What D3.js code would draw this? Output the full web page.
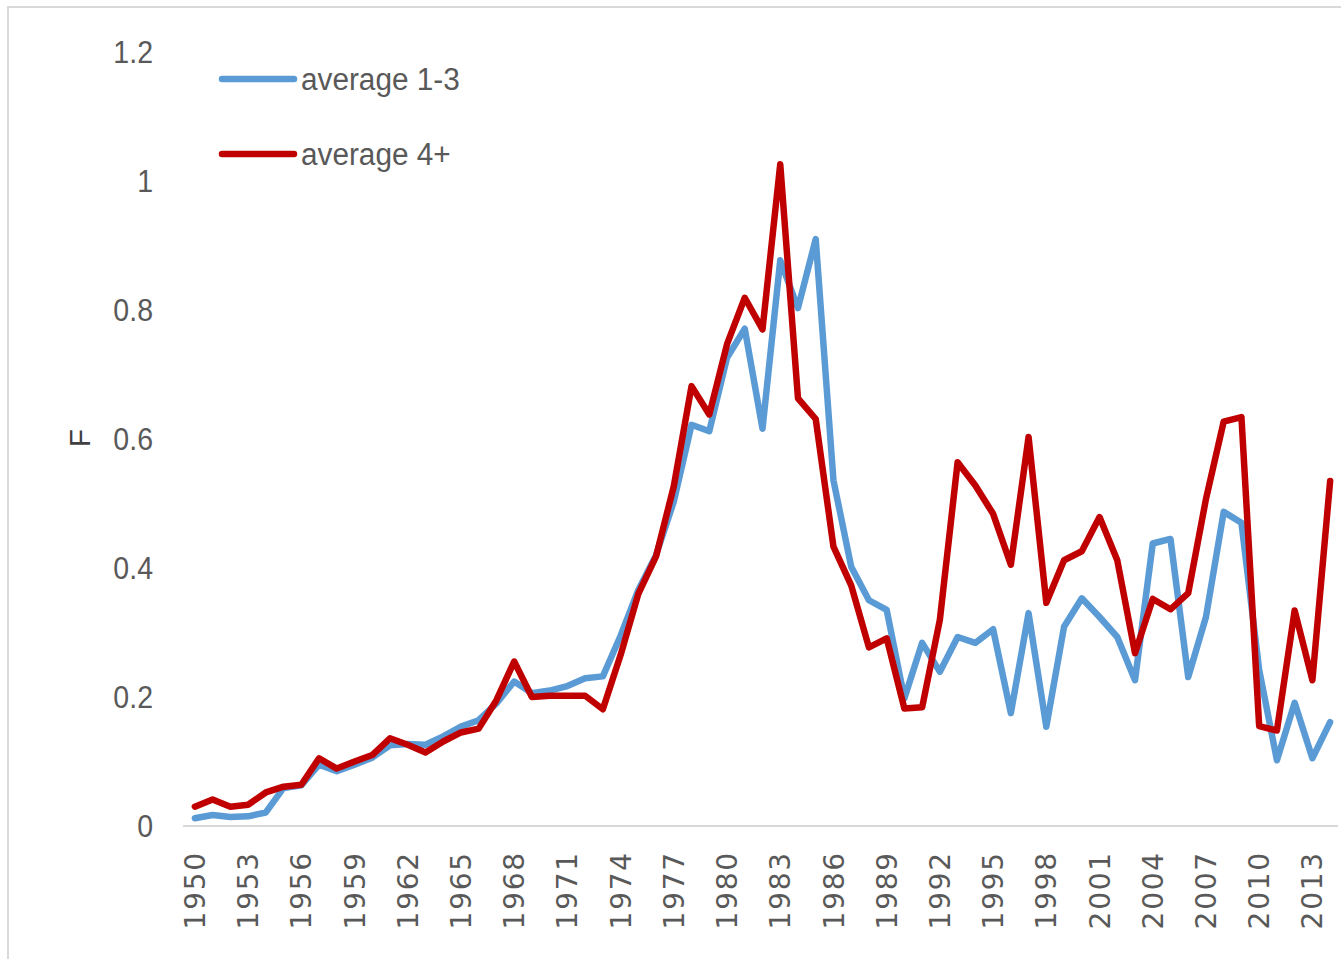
<!DOCTYPE html>
<html>
<head>
<meta charset="utf-8">
<script src="https://cdn.jsdelivr.net/npm/d3@7"></script>
<style>
  html, body { margin: 0; padding: 0; background: #fff; }
  svg { display: block; }
</style>
</head>
<body>
<div id="chart"></div>
<script>
// years 1950..2014
var years = [1950,1951,1952,1953,1954,1955,1956,1957,1958,1959,
             1960,1961,1962,1963,1964,1965,1966,1967,1968,1969,
             1970,1971,1972,1973,1974,1975,1976,1977,1978,1979,
             1980,1981,1982,1983,1984,1985,1986,1987,1988,1989,
             1990,1991,1992,1993,1994,1995,1996,1997,1998,1999,
             2000,2001,2002,2003,2004,2005,2006,2007,2008,2009,
             2010,2011,2012,2013,2014];

var avg13 = [0.012,0.017,0.014,0.015,0.021,0.059,0.063,0.095,0.085,0.095,
             0.106,0.125,0.127,0.126,0.139,0.154,0.164,0.190,0.224,0.206,
             0.210,0.217,0.229,0.232,0.295,0.366,0.420,0.503,0.622,0.612,
             0.726,0.771,0.616,0.877,0.803,0.910,0.536,0.402,0.350,0.335,
             0.198,0.284,0.239,0.293,0.284,0.305,0.175,0.330,0.154,0.309,
             0.353,0.324,0.293,0.226,0.438,0.445,0.231,0.324,0.487,0.470,
             0.242,0.102,0.191,0.105,0.161];

var avg4p = [0.030,0.041,0.030,0.033,0.052,0.061,0.064,0.105,0.089,0.100,
             0.110,0.136,0.126,0.114,0.131,0.145,0.151,0.195,0.255,0.200,
             0.202,0.202,0.202,0.181,0.265,0.360,0.418,0.527,0.682,0.638,
             0.747,0.819,0.770,1.026,0.663,0.631,0.433,0.373,0.277,0.291,
             0.182,0.184,0.320,0.564,0.528,0.484,0.405,0.603,0.346,0.412,
             0.426,0.479,0.412,0.268,0.352,0.336,0.361,0.507,0.627,0.634,
             0.155,0.148,0.334,0.226,0.535];

var seriesNames = ["average 1-3", "average 4+"];
var seriesColors = ["#5B9BD5", "#C00000"];
var yTicks = [0, 0.2, 0.4, 0.6, 0.8, 1, 1.2];
var xTickYears = years.filter(function(y) { return (y - 1950) % 3 === 0; });

var W = 1341, H = 959;
var labelFont = "Liberation Sans, Arial, sans-serif";

var svg = d3.select("#chart").append("svg")
    .attr("width", W)
    .attr("height", H);

// outer chart border
svg.append("rect")
    .attr("x", 8).attr("y", 7)
    .attr("width", W).attr("height", H)
    .attr("fill", "none")
    .attr("stroke", "#d9d9d9")
    .attr("stroke-width", 2);

var x = d3.scalePoint()
    .domain(years)
    .range([186, 1339])
    .padding(0.5);

var y = d3.scaleLinear()
    .domain([0, 1.2])
    .range([826, 52]);

// x axis line
svg.append("line")
    .attr("x1", 183).attr("x2", 1338)
    .attr("y1", y(0)).attr("y2", y(0))
    .attr("stroke", "#d9d9d9")
    .attr("stroke-width", 2);

// y tick labels (slightly condensed like the original)
svg.append("g").selectAll("text")
    .data(yTicks)
    .enter().append("text")
    .attr("transform", function(d) { return "translate(153," + y(d) + ") scale(0.92,1)"; })
    .attr("dy", "0.35em")
    .attr("text-anchor", "end")
    .attr("font-family", labelFont)
    .attr("font-size", "31px")
    .attr("fill", "#595959")
    .text(function(d) { return d; });

// x tick labels, rotated
svg.append("g").selectAll("text")
    .data(xTickYears)
    .enter().append("text")
    .attr("transform", function(d) { return "translate(" + x(d) + "," + 851 + ") rotate(-90)"; })
    .attr("dy", "0.36em")
    .attr("text-anchor", "end")
    .attr("font-family", "DejaVu Sans, sans-serif")
    .attr("font-size", "28px")
    .attr("letter-spacing", "1.8px")
    .attr("fill", "#595959")
    .text(function(d) { return d; });

// y axis title
svg.append("text")
    .attr("transform", "translate(79,438) rotate(-90)")
    .attr("dy", "0.36em")
    .attr("text-anchor", "middle")
    .attr("font-family", labelFont)
    .attr("font-size", "30px")
    .attr("fill", "#404040")
    .text("F");

// lines
var line = d3.line()
    .x(function(d, i) { return x(years[i]); })
    .y(function(d) { return y(d); });

[avg13, avg4p].forEach(function(vals, k) {
  svg.append("path")
      .datum(vals)
      .attr("d", line)
      .attr("fill", "none")
      .attr("stroke", seriesColors[k])
      .attr("stroke-width", 6.5)
      .attr("stroke-linejoin", "round")
      .attr("stroke-linecap", "round");
});

// legend
var legY = [79, 154];
seriesNames.forEach(function(name, k) {
  svg.append("line")
      .attr("x1", 222).attr("x2", 294)
      .attr("y1", legY[k]).attr("y2", legY[k])
      .attr("stroke", seriesColors[k])
      .attr("stroke-width", 6.5)
      .attr("stroke-linecap", "round");
  svg.append("text")
      .attr("transform", "translate(301," + legY[k] + ") scale(0.96,1)")
      .attr("dy", "0.36em")
      .attr("font-family", labelFont)
      .attr("font-size", "31px")
      .attr("fill", "#595959")
      .text(name);
});
</script>
</body>
</html>
